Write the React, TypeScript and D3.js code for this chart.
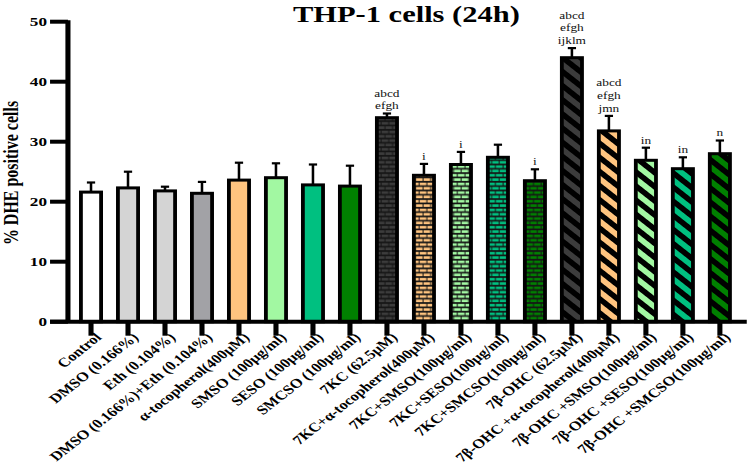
import React from "react";
import * as d3 from "d3";

const categories = [
  "Control",
  "DMSO (0.166%)",
  "Eth (0.104%)",
  "DMSO (0.166%)+Eth (0.104%)",
  "α-tocopherol(400μM)",
  "SMSO (100μg/ml)",
  "SESO (100μg/ml)",
  "SMCSO (100μg/ml)",
  "7KC (62.5μM)",
  "7KC+α-tocopherol(400μM)",
  "7KC+SMSO(100μg/ml)",
  "7KC+SESO(100μg/ml)",
  "7KC+SMCSO(100μg/ml)",
  "7β-OHC (62.5μM)",
  "7β-OHC +α-tocopherol(400μM)",
  "7β-OHC +SMSO(100μg/ml)",
  "7β-OHC +SESO(100μg/ml)",
  "7β-OHC +SMCSO(100μg/ml)",
];

const means = [21.6, 22.3, 21.8, 21.4, 23.6, 24.0, 22.8, 22.6, 34.0, 24.4, 26.2, 27.4, 23.5, 44.0, 31.8, 26.9, 25.5, 28.0];
const sems = [1.6, 2.7, 0.7, 1.9, 2.9, 2.4, 3.4, 3.4, 0.7, 1.9, 2.1, 2.1, 1.9, 1.6, 2.5, 2.1, 1.9, 2.2];
const annotations = [
  [], [], [], [], [], [], [], [],
  ["abcd", "efgh"],
  ["i"],
  ["i"],
  [],
  ["i"],
  ["abcd", "efgh", "ijklm"],
  ["abcd", "efgh", "jmn"],
  ["in"],
  ["in"],
  ["n"],
];
const yTicks = [0, 10, 20, 30, 40, 50];

const fills = [
  "#ffffff", "#d4d4d4", "#d4d4d4", "#a2a2a6", "#ffc47f", "#a2f8a2", "#00c080", "#008000",
  "#3c3c3c", "#ffc47f", "#a2f8a2", "#00c080", "#008000",
  "#3c3c3c", "#ffc47f", "#a2f8a2", "#00c080", "#008000",
];
const patterns = [
  "solid", "solid", "solid", "solid", "solid", "solid", "solid", "solid",
  "brick", "brick", "brick", "brick", "brick",
  "stripe", "stripe", "stripe", "stripe", "stripe",
];

const SX = 1.27;
const FONT = "'Liberation Serif', 'Times New Roman', serif";

export default function App() {
  const x = d3
    .scaleBand<string>()
    .domain(categories)
    .range([57.1, 581.4])
    .paddingInner(0.455)
    .paddingOuter(0.2275);
  const y = d3.scaleLinear().domain([0, 50]).range([321.7, 21.7]);
  const bw = x.bandwidth();
  const capW = 6.5;
  const axisX = 53.5;

  return (
    <svg width={750} height={467} style={{ position: "absolute", left: 0, top: 0, background: "#fff" }}>
      <defs>
        {categories.map((c, i) => {
          if (patterns[i] === "brick") {
            return (
              <pattern key={i} id={`pat${i}`} patternUnits="userSpaceOnUse" width={12} height={8.66}>
                <rect x={0} y={0} width={12} height={8.66} fill="#151515" />
                <rect x={0.5} y={0.8} width={5.2} height={2.6} fill={fills[i]} />
                <rect x={6.5} y={0.8} width={5.2} height={2.6} fill={fills[i]} />
                <rect x={-2.5} y={5.1} width={5.2} height={2.6} fill={fills[i]} />
                <rect x={3.5} y={5.1} width={5.2} height={2.6} fill={fills[i]} />
                <rect x={9.5} y={5.1} width={5.2} height={2.6} fill={fills[i]} />
              </pattern>
            );
          }
          if (patterns[i] === "stripe") {
            return (
              <pattern
                key={i}
                id={`pat${i}`}
                patternUnits="userSpaceOnUse"
                width={10}
                height={10}
                patternTransform="rotate(-45)"
              >
                <rect x={0} y={0} width={10} height={10} fill={fills[i]} />
                <rect x={0} y={0} width={5} height={10} fill="#000" />
              </pattern>
            );
          }
          return null;
        })}
      </defs>
      <g transform={`scale(${SX},1)`} fontFamily={FONT}>
        {/* title */}
        <text x={320} y={22} textAnchor="middle" fontSize={24} fontWeight="bold" fill="#000">
          THP-1 cells (24h)
        </text>
        {/* y axis label */}
        <text
          transform={`translate(14.5,173) rotate(-90)`}
          textAnchor="middle"
          fontSize={16}
          fontWeight="bold"
          fill="#000"
        >
          % DHE positive cells
        </text>

        {/* bars */}
        {categories.map((c, i) => {
          const x0 = x(c) as number;
          const cx = x0 + bw / 2;
          const top = y(means[i]);
          const errTop = y(means[i] + sems[i]);
          const fill = patterns[i] === "solid" ? fills[i] : `url(#pat${i})`;
          return (
            <g key={c}>
              <line x1={cx} x2={cx} y1={top} y2={errTop} stroke="#000" strokeWidth={2} />
              <line x1={cx - capW / 2} x2={cx + capW / 2} y1={errTop} y2={errTop} stroke="#000" strokeWidth={2.2} />
              <rect x={x0} y={top} width={bw} height={y(0) - top} fill={fill} stroke="#000" strokeWidth={3} />
              {annotations[i].map((t, k) => (
                <text
                  key={k}
                  x={cx}
                  y={errTop - 4 - (annotations[i].length - 1 - k) * 12.7}
                  textAnchor="middle"
                  fontSize={10.5}
                  fill="#111"
                >
                  {t}
                </text>
              ))}
            </g>
          );
        })}

        {/* y axis */}
        <line x1={axisX} x2={axisX} y1={y(50) - 1.5} y2={y(0)} stroke="#000" strokeWidth={4} />
        {yTicks.map((t) => (
          <g key={t}>
            <line x1={39.4} x2={axisX} y1={y(t)} y2={y(t)} stroke="#000" strokeWidth={4} />
            <text x={37} y={y(t)} dy="0.35em" textAnchor="end" fontSize={13.5} fontWeight="bold" fill="#000">
              {t}
            </text>
          </g>
        ))}

        {/* x axis */}
        <line x1={39.4} x2={588} y1={y(0)} y2={y(0)} stroke="#000" strokeWidth={4} />
        {categories.map((c) => {
          const cx = (x(c) as number) + bw / 2;
          return (
            <g key={c}>
              <line x1={cx} x2={cx} y1={y(0)} y2={y(0) + 14} stroke="#000" strokeWidth={4} />
              <text
                transform={`translate(${cx + 9},${y(0) + 16.5}) rotate(-45)`}
                textAnchor="end"
                fontSize={13}
                fontWeight="bold"
                fill="#000"
              >
                {c}
              </text>
            </g>
          );
        })}
      </g>
    </svg>
  );
}
